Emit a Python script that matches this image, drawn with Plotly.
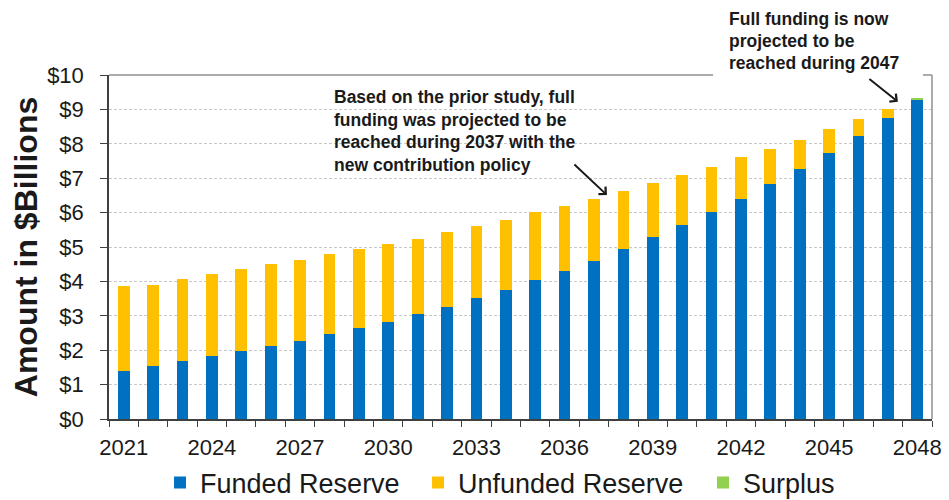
import plotly.graph_objects as go

years = ["2021", "2022", "2023", "2024", "2025", "2026", "2027", "2028", "2029", "2030",
         "2031", "2032", "2033", "2034", "2035", "2036", "2037", "2038", "2039", "2040",
         "2041", "2042", "2043", "2044", "2045", "2046", "2047", "2048"]
tick_labels = ["2021", "", "", "2024", "", "", "2027", "", "", "2030",
               "", "", "2033", "", "", "2036", "", "", "2039", "",
               "", "2042", "", "", "2045", "", "", "2048"]
funded = [1.40, 1.54, 1.68, 1.83, 1.98, 2.13, 2.28, 2.46, 2.65, 2.82,
          3.04, 3.27, 3.53, 3.75, 4.04, 4.30, 4.60, 4.93, 5.28, 5.64,
          6.02, 6.41, 6.82, 7.26, 7.73, 8.23, 8.75, 9.29]
unfunded = [2.48, 2.37, 2.38, 2.38, 2.37, 2.37, 2.34, 2.33, 2.28, 2.28,
            2.19, 2.16, 2.08, 2.04, 1.97, 1.90, 1.81, 1.71, 1.59, 1.45,
            1.32, 1.20, 1.04, 0.86, 0.69, 0.49, 0.26, 0.00]
surplus = [0, 0, 0, 0, 0, 0, 0, 0, 0, 0,
           0, 0, 0, 0, 0, 0, 0, 0, 0, 0,
           0, 0, 0, 0, 0, 0, 0, 0.04]
y_ticks = [0, 1, 2, 3, 4, 5, 6, 7, 8, 9, 10]
y_labels = ["$0", "$1", "$2", "$3", "$4", "$5", "$6", "$7", "$8", "$9", "$10"]

note1 = ["Based on the prior study, full", "funding was projected to be",
         "reached during 2037 with the", "new contribution policy"]
note2 = ["Full funding is now", "projected to be", "reached during 2047"]

FONT = "Arial, Liberation Sans, sans-serif"
TXT = "#1a1a1a"
BLUE, YELLOW, GREEN = "#0070C0", "#FFC000", "#92D050"

fig = go.Figure()
series = [("Funded Reserve", funded, BLUE, "legend", 0.062),
          ("Unfunded Reserve", unfunded, YELLOW, "legend2", 0.3755),
          ("Surplus", surplus, GREEN, "legend3", 0.7218)]
leg_layout = {}
for name, vals, col, leg, lx in series:
    fig.add_trace(go.Bar(x=years, y=vals, name=name, legend=leg,
                         marker=dict(color=col, line=dict(width=0))))
    leg_layout[leg] = dict(orientation="h", x=lx, xanchor="left", y=-0.186, yanchor="middle",
                           font=dict(size=27, family=FONT, color=TXT), bgcolor="rgba(0,0,0,0)",
                           borderwidth=0)

fig.update_layout(
    width=949, height=500,
    margin=dict(l=109, r=17, t=75, b=81, autoexpand=False),
    paper_bgcolor="white", plot_bgcolor="white",
    barmode="stack", bargap=0.6,
    font=dict(family=FONT, color=TXT),
    showlegend=True,
    **leg_layout,
)
fig.update_xaxes(
    type="category", tickmode="array", tickvals=years, ticktext=tick_labels, tickangle=0,
    tickson="boundaries", ticks="outside", ticklen=6, tickcolor="#404040", tickwidth=1,
    showline=True, linecolor="#404040", linewidth=1.5, showgrid=False, automargin=False,
    ticklabelstandoff=8,
    tickfont=dict(size=22, family=FONT, color=TXT),
)
fig.update_yaxes(
    range=[0, 10], tickmode="array", tickvals=y_ticks, ticktext=y_labels,
    ticks="outside", ticklen=7, tickcolor="#404040", automargin=False,
    showline=True, linecolor="#404040", linewidth=1.5,
    showgrid=True, gridcolor="#c8c8c8", griddash="3px,2px", gridwidth=1,
    zeroline=False, ticklabelstandoff=12,
    tickfont=dict(size=22, family=FONT, color=TXT),
    title=dict(text="<b>Amount in $Billions</b>", font=dict(size=32, family=FONT, color=TXT),
               standoff=0),
)

# frame (top with gap for the annotation, right side)
shapes = [
    dict(type="rect", xref="paper", yref="paper", x0=0.7, x1=0.995, y0=0.985, y1=1.02,
         fillcolor="white", line=dict(width=0), layer="above"),
    dict(type="line", xref="paper", yref="paper", x0=0, x1=0.734, y0=1, y1=1,
         line=dict(color="#909090", width=1.5), layer="above"),
    dict(type="line", xref="paper", yref="paper", x0=0.989, x1=1, y0=1, y1=1,
         line=dict(color="#909090", width=1.5), layer="above"),
    dict(type="line", xref="paper", yref="paper", x0=1, x1=1, y0=0, y1=1,
         line=dict(color="#909090", width=1.5), layer="above"),
]
fig.update_layout(shapes=shapes)

anns = []
for i, t in enumerate(note1):
    anns.append(dict(xref="paper", yref="paper", x=0.271, y=0.936 - i * 0.0655, text="<b>%s</b>" % t,
                     showarrow=False, xanchor="left", yanchor="middle", align="left",
                     font=dict(size=17.5, family=FONT, color=TXT)))
for i, t in enumerate(note2):
    anns.append(dict(xref="paper", yref="paper", x=0.751, y=1.163 - i * 0.064, text="<b>%s</b>" % t,
                     showarrow=False, xanchor="left", yanchor="middle", align="left",
                     font=dict(size=17.5, family=FONT, color=TXT)))
anns.append(dict(x=16.44, y=6.51, xref="x", yref="y", text="", showarrow=True,
                 ax=-34, ay=-32, arrowhead=4, arrowsize=1, arrowwidth=2, arrowcolor=TXT))
anns.append(dict(x=26.34, y=9.22, xref="x", yref="y", text="", showarrow=True,
                 ax=-30, ay=-24, arrowhead=4, arrowsize=1, arrowwidth=2, arrowcolor=TXT))
fig.update_layout(annotations=anns)

fig.write_html("out.html")
